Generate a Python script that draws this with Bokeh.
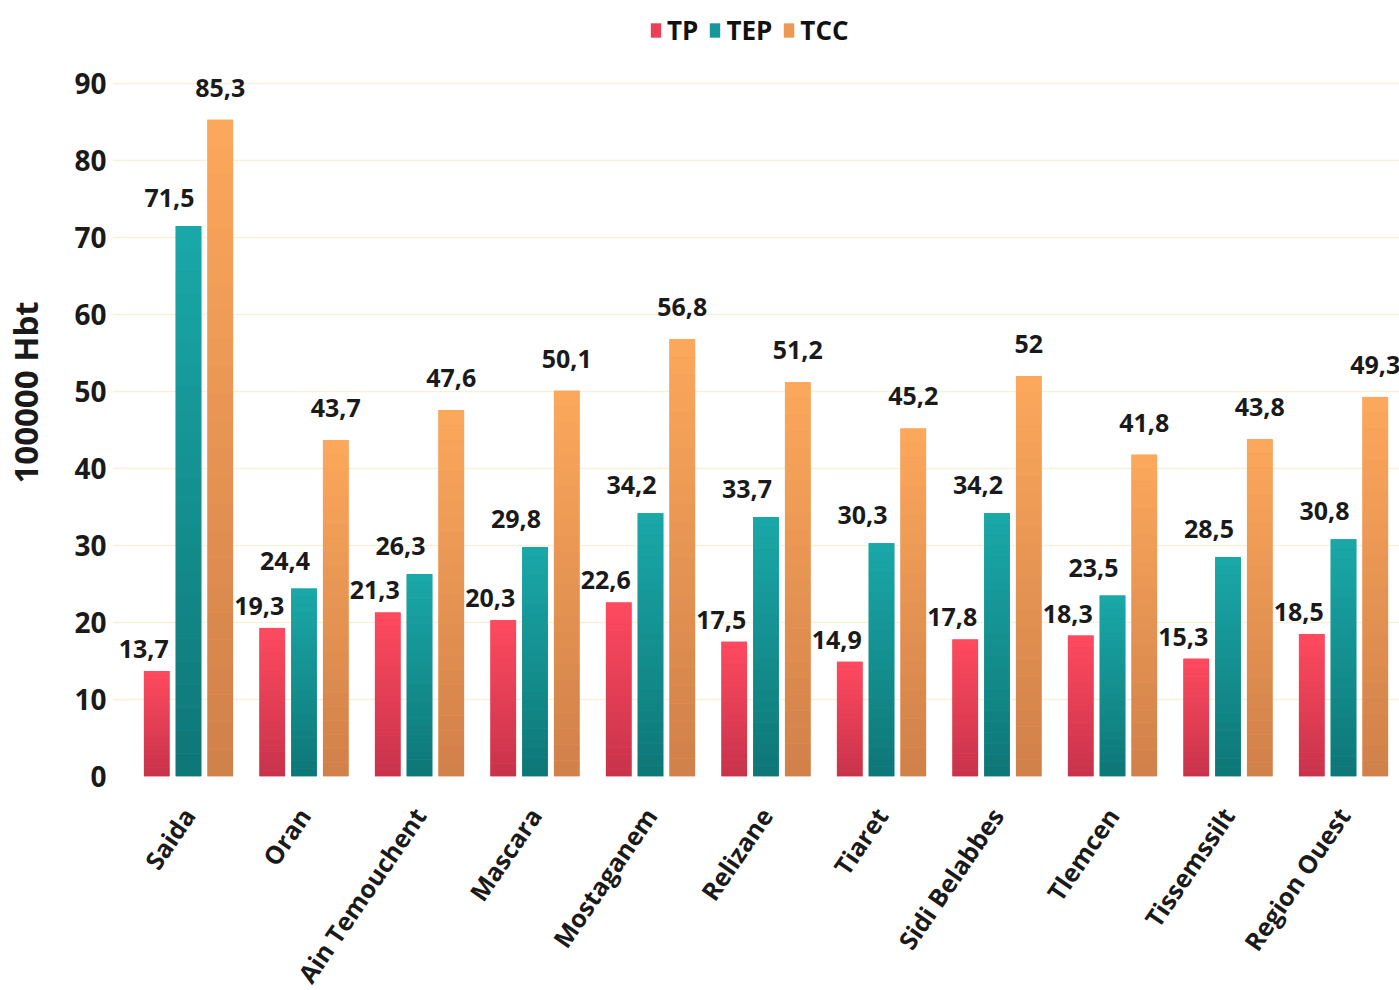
from bokeh.plotting import figure
from bokeh.models import Range1d, FixedTicker, Legend, LegendItem, ColumnDataSource, LabelSet
from bokeh.core.properties import value
from bokeh.embed import file_html
from bokeh.resources import INLINE

# ---------------- data ----------------
categories = ["Saida", "Oran", "Ain Temouchent", "Mascara", "Mostaganem", "Relizane",
              "Tiaret", "Sidi Belabbes", "Tlemcen", "Tissemssilt", "Region Ouest"]
tp = [13.7, 19.3, 21.3, 20.3, 22.6, 17.5, 14.9, 17.8, 18.3, 15.3, 18.5]
tep = [71.5, 24.4, 26.3, 29.8, 34.2, 33.7, 30.3, 34.2, 23.5, 28.5, 30.8]
tcc = [85.3, 43.7, 47.6, 50.1, 56.8, 51.2, 45.2, 52.0, 41.8, 43.8, 49.3]
series_names = ["TP", "TEP", "TCC"]
y_ticks = [0, 10, 20, 30, 40, 50, 60, 70, 80, 90]
y_label = "100000 Hbt"

# ---------------- style ----------------
FONT = "Open Sans"
series_vals = [tp, tep, tcc]
dodge = [-0.275, 0.0, 0.275]
bar_w = 0.222
top_cols = ["#ff4a5f", "#1aa8a8", "#fca85c"]
bot_cols = ["#c7334b", "#0e7677", "#d0804a"]
mid_cols = ["#ea4156", "#17979a", "#ef9854"]
lab_dx = [-13, -19, 0]
lab_dy = [22, 28, 32]
N = 24


def hex2rgb(h):
    h = h.lstrip("#")
    return tuple(int(h[i:i + 2], 16) for i in (0, 2, 4))


def mix(c1, c2, t):
    a, b = hex2rgb(c1), hex2rgb(c2)
    return "#%02x%02x%02x" % tuple(round(a[i] + (b[i] - a[i]) * t) for i in range(3))


idx = list(range(len(categories)))

p = figure(frame_width=1295, frame_height=768,
           min_border_left=104, min_border_right=0, min_border_top=8, min_border_bottom=212,
           x_range=Range1d(-0.658, 10.554), y_range=Range1d(0, 99.74),
           output_backend="svg", toolbar_location=None, tools="")
p.outline_line_color = None
p.background_fill_color = "white"
p.border_fill_color = "white"

legend_items = []
for s, vals in enumerate(series_vals):
    xs = [i + dodge[s] for i in idx]
    solid = p.vbar(x=xs, top=vals, bottom=0, width=bar_w,
                   fill_color=mid_cols[s], line_color=None)
    legend_items.append(LegendItem(label=series_names[s], renderers=[solid]))
    # vertical gradient strips built from each bar's value
    sx, sb, st, sc = [], [], [], []
    for i, v in zip(idx, vals):
        for k in range(N):
            sx.append(i + dodge[s])
            sb.append(v * k / N)
            st.append(v * (k + 1) / N)
            sc.append(mix(bot_cols[s], top_cols[s], (k + 0.5) / N))
    p.vbar(x=sx, top=st, bottom=sb, width=bar_w, fill_color=sc, line_color=None)
    lab = ColumnDataSource(dict(x=xs, y=vals,
                                t=[f"{v:g}".replace(".", ",") for v in vals]))
    p.add_layout(LabelSet(x="x", y="y", text="t", source=lab,
                          x_offset=lab_dx[s], y_offset=lab_dy[s],
                          text_align="center", text_baseline="middle",
                          text_font=value(FONT), text_font_style="bold",
                          text_font_size="25px", text_color="#1a1a1a"))

legend = Legend(items=legend_items, location=(537, 728), orientation="horizontal",
                label_text_font=FONT, label_text_font_style="bold", label_text_font_size="26px",
                label_text_color="#111111",
                glyph_width=13, glyph_height=18, label_standoff=5, spacing=10,
                padding=4, margin=0, border_line_color=None, background_fill_alpha=0)
p.add_layout(legend)

# axes
p.yaxis.ticker = FixedTicker(ticks=y_ticks)
p.ygrid.ticker = FixedTicker(ticks=y_ticks)
p.ygrid.grid_line_color = "#f8f1da"
p.ygrid.grid_line_width = 1.5
p.xgrid.grid_line_color = None

p.yaxis.axis_line_color = None
p.yaxis.major_tick_line_color = None
p.yaxis.minor_tick_line_color = None
p.yaxis.major_label_text_font = FONT
p.yaxis.major_label_text_font_style = "bold"
p.yaxis.major_label_text_font_size = "28px"
p.yaxis.major_label_text_color = "#1a1a1a"
p.yaxis.major_label_standoff = 0
p.yaxis.axis_label = y_label
p.yaxis.axis_label_text_font = FONT
p.yaxis.axis_label_text_font_style = "bold"
p.yaxis.axis_label_text_font_size = "33px"
p.yaxis.axis_label_text_color = "#1a1a1a"
p.yaxis.axis_label_standoff = 23

p.xaxis.ticker = FixedTicker(ticks=idx)
p.xaxis.major_label_overrides = {i: c for i, c in zip(idx, categories)}
p.xaxis.major_label_orientation = 0.97
p.xaxis.axis_line_color = None
p.xaxis.major_tick_line_color = None
p.xaxis.minor_tick_line_color = None
p.xaxis.major_label_text_font = FONT
p.xaxis.major_label_text_font_style = "bold"
p.xaxis.major_label_text_font_size = "25px"
p.xaxis.major_label_text_color = "#1a1a1a"
p.xaxis.major_label_standoff = 28

open("out.html", "w").write(file_html(p, INLINE))
